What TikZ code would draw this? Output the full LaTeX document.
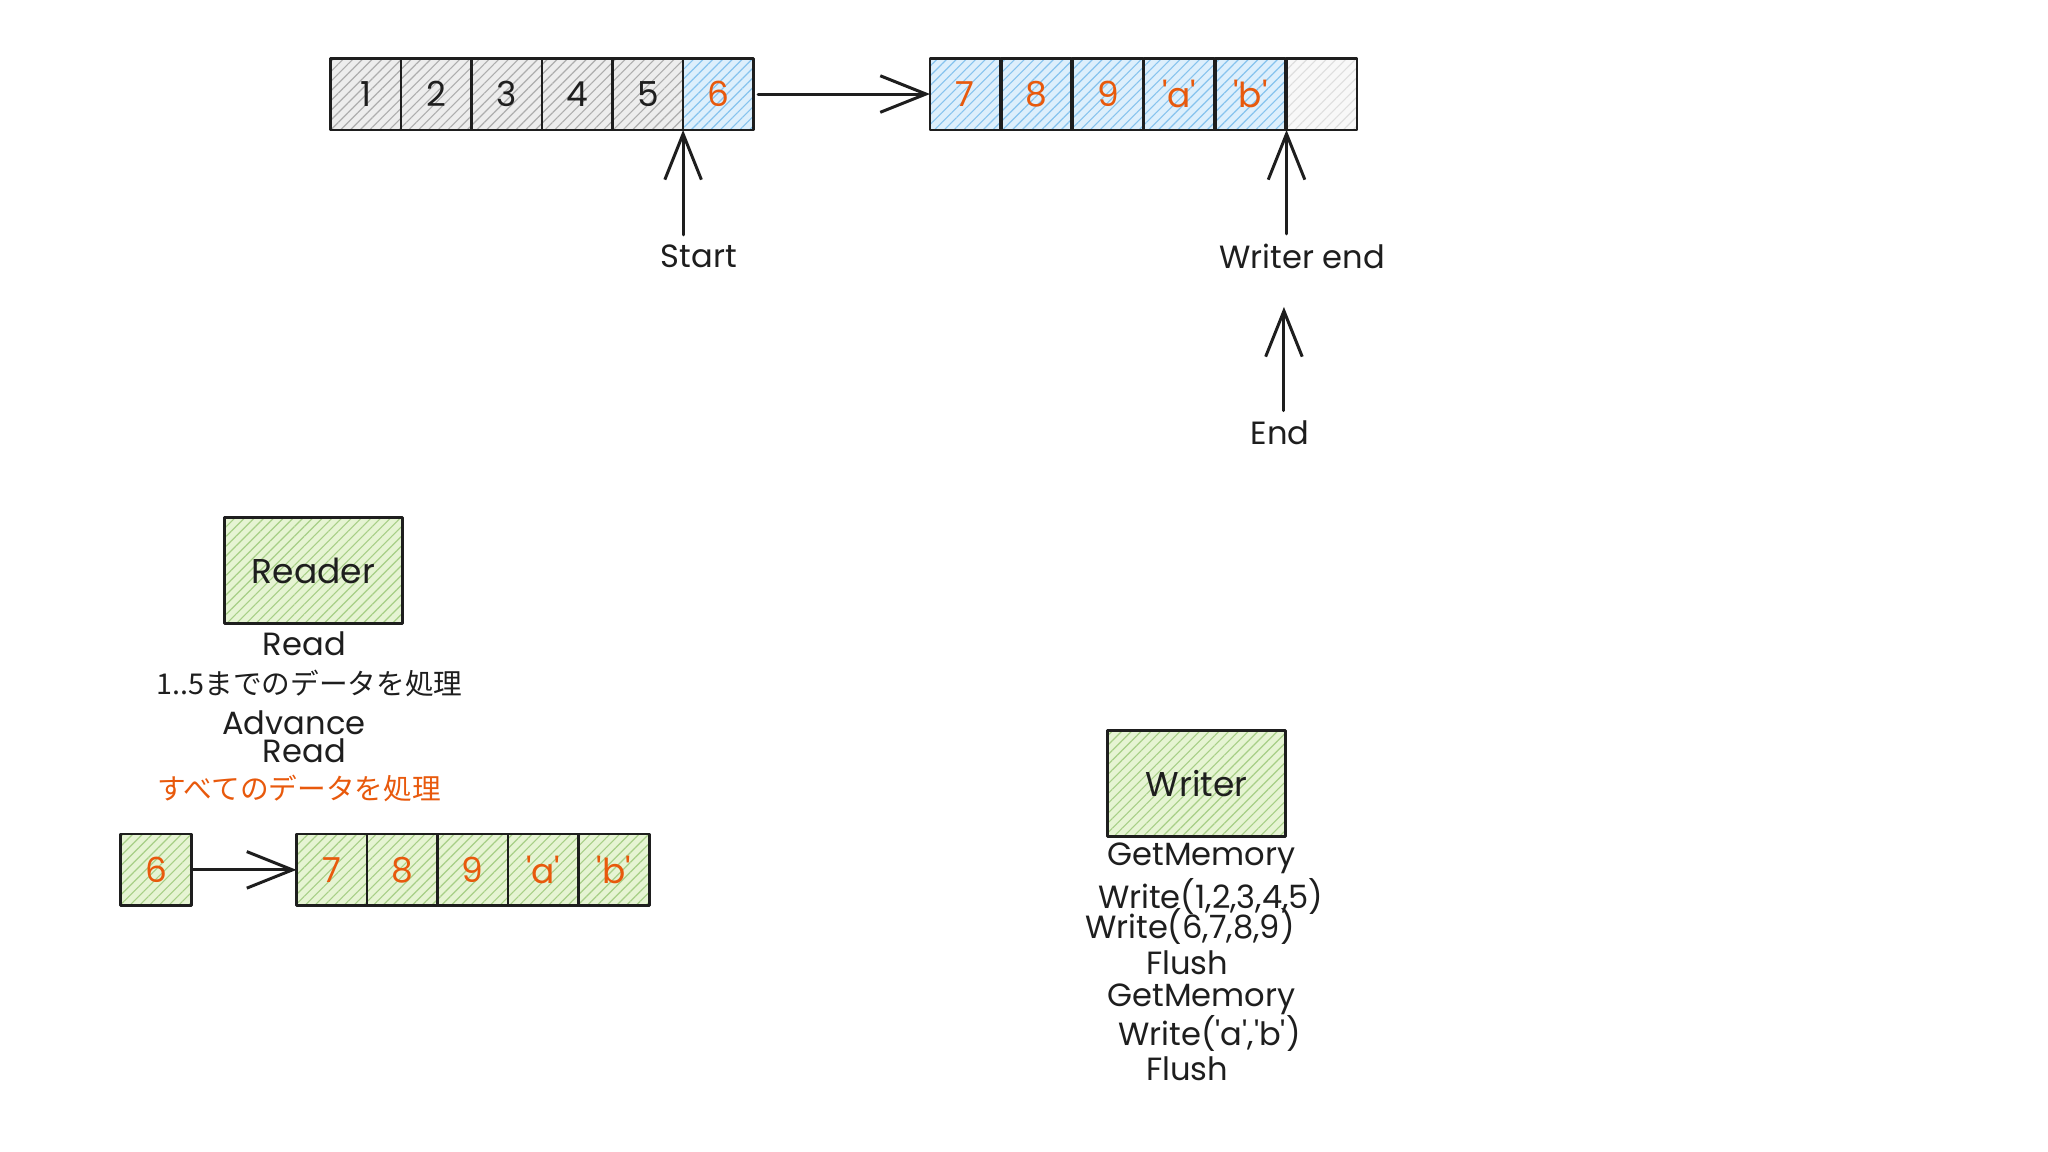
\documentclass[tikz,border=0pt]{standalone}
\usepackage{fontspec}
\setmainfont{Poppins}
\newfontfamily\jpfont{Noto Sans CJK JP}
\usetikzlibrary{arrows.meta,patterns.meta,positioning}

\definecolor{ink}{HTML}{1E1E1E}
\definecolor{hot}{HTML}{E8590C}
\definecolor{grayfill}{HTML}{EDEDED}
\definecolor{grayline}{HTML}{ADADAD}
\definecolor{bluefill}{HTML}{DDEFFC}
\definecolor{blueline}{HTML}{86C3EE}
\definecolor{greenfill}{HTML}{E6F4D3}
\definecolor{greenline}{HTML}{A7CF86}
\definecolor{emptyfill}{HTML}{F8F8F8}
\definecolor{emptyline}{HTML}{DEDEDE}

\newcommand{\quoted}[1]{\textquotesingle#1\textquotesingle}

\tikzset{
  hatch/.style 2 args={preaction={fill=#1},pattern={Lines[angle=45,distance=3pt,line width=0.5pt]},pattern color=#2},
  cell/.style={draw=ink,line width=1.2pt,minimum width=1.08cm,minimum height=1.1cm,inner sep=0pt,outer sep=0pt,font=\fontsize{15}{18}\selectfont},
  graycell/.style={cell,hatch={grayfill}{grayline},text=ink},
  bluecell/.style={cell,hatch={bluefill}{blueline},text=hot},
  greencell/.style={cell,hatch={greenfill}{greenline},text=hot},
  emptycell/.style={cell,hatch={emptyfill}{emptyline}},
  actor/.style={draw=ink,line width=1.3pt,minimum width=2.72cm,minimum height=1.62cm,inner sep=0pt,hatch={greenfill}{greenline},text=ink,font=\fontsize{15}{18}\selectfont},
  note/.style={inner sep=0pt,text=ink,font=\fontsize{14}{17}\selectfont},
  jp/.style={note,font=\jpfont\fontsize{12.5}{15}\selectfont},
  conn/.style={draw=ink,line width=1.3pt,-{Straight Barb[length=7mm,width=5.6mm]}}
}

\begin{document}
\begin{tikzpicture}[line cap=round,line join=round,x=0.02cm,y=-0.02cm]
\useasboundingbox (0,0) rectangle (1568,882);
% buffer before Advance
\foreach \t [count=\i] in {1,2,3,4,5}
  \node[graycell] (a\i) at ({226+54*\i},72) {\t};
\node[bluecell] (a6) at (550,72) {6};
\foreach \t [count=\i] in {7,8,9,\quoted{a},\quoted{b}}
  \node[bluecell] (b\i) at ({684.4+54.6*\i},72) {\t};
\node[emptycell] (b6) at (1012,72) {};
\draw[conn,shorten <=2pt] (a6.east) -- (b1.west);
% pointers
\node[note] (start) at (535,196) {Start};
\node[note] (wend) at (997,196) {Writer end};
\node[note] (endl) at (980,331) {End};
\coordinate (endtip) at (983,235);
\draw[conn,shorten <=4pt] (start.north -| a6.south west) -- (a6.south west);
\draw[conn,shorten <=4pt] (wend.north -| b6.south west) -- (b6.south west);
\draw[conn,shorten <=4pt] (endl.north -| endtip) -- (endtip);
% reader side
\node[actor] (reader) at (240,437) {Reader};
\foreach \x/\y/\t [count=\i] in {233/493/Read,225/553/Advance,233/575/Read}
  \node[note] (r\i) at (\x,\y) {\t};
\node[jp] (jp1) at (237,523) {1..5までのデータを処理};
\node[jp,text=hot] (jp2) at (229,604) {すべてのデータを処理};
\node[greencell] (g0) at (119.5,666) {6};
\foreach \t [count=\i] in {7,8,9,\quoted{a},\quoted{b}}
  \node[greencell] (g\i) at ({200+54*\i},666) {\t};
\draw[conn] (g0.east) -- (g1.west);
% writer side
\node[actor] (writer) at (916,600) {Writer};
\foreach \x/\y/\t [count=\i] in {920/657/GetMemory,927/686/{Write(1,2,3,4,5)},911/709/{Write(6,7,8,9)},909/737/Flush,920/765/GetMemory,926/791/{Write(\quoted{a},\quoted{b})},909/818/Flush}
  \node[note] (w\i) at (\x,\y) {\t};
\end{tikzpicture}
\end{document}
